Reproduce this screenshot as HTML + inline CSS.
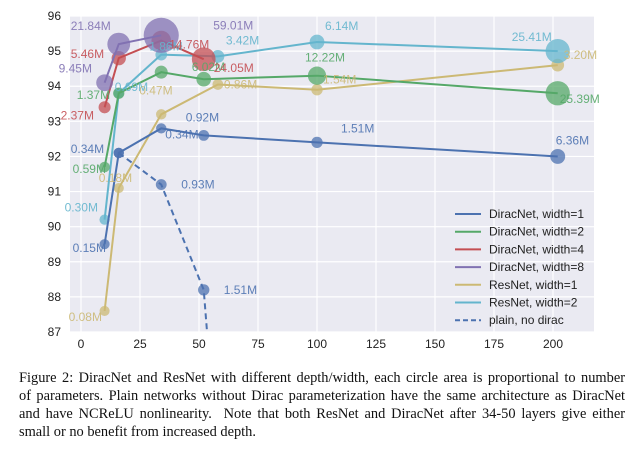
<!DOCTYPE html>
<html><head><meta charset="utf-8"><style>
body{margin:0;background:#fff;width:644px;height:459px;overflow:hidden}
svg text{font-family:"Liberation Sans",sans-serif}
#cap{position:absolute;left:19px;top:369px;width:606px;font-family:"Liberation Serif",serif;font-size:14.4px;line-height:18px;color:#111}
#cap .j{display:block;text-align:justify;text-align-last:justify;white-space:nowrap}
#cap .l{display:block;white-space:nowrap}
</style></head><body>
<svg id="chart" width="644" height="360" style="position:absolute;left:0;top:0"></svg>
<div id="cap"><span class="j">Figure 2: DiracNet and ResNet with different depth/width, each circle area is proportional to number</span><span class="j">of parameters. Plain networks without Dirac parameterization have the same architecture as DiracNet</span><span class="j">and have NCReLU nonlinearity.&nbsp; Note that both ResNet and DiracNet after 34-50 layers give either</span><span class="l">small or no benefit from increased depth.</span></div>
<script>
const xTicks=[0,25,50,75,100,125,150,175,200];
const yTicks=[87,88,89,90,91,92,93,94,95,96];
const seriesNames=["DiracNet, width=1","DiracNet, width=2","DiracNet, width=4","DiracNet, width=8","ResNet, width=1","ResNet, width=2","plain, no dirac"];
const colors=["#4c72b0","#55a868","#c44e52","#8172b2","#ccb974","#64b5cd","#4c72b0"];
const d1Depth=[10,16,34,52,100,202], d1Acc=[89.5,92.1,92.8,92.6,92.4,92.0], d1Par=[0.15,0.34,0.34,0.92,1.51,6.36];
const d1Lab=["0.15M","0.34M","0.34M","0.92M","1.51M","6.36M"];
const d2Depth=[10,16,34,52,100,202], d2Acc=[91.7,93.8,94.4,94.2,94.3,93.8], d2Par=[0.59,1.37,3.6,6.02,12.22,25.39];
const d2Lab=["0.59M","1.37M","","6.02M","12.22M","25.39M"];
const d4Depth=[10,16,34,52], d4Acc=[93.4,94.8,95.3,94.77], d4Par=[2.37,5.46,14.76,24.05];
const d4Lab=["2.37M","5.46M","14.76M","24.05M"];
const d8Depth=[10,16,34], d8Acc=[94.1,95.2,95.45], d8Par=[9.45,21.84,59.01];
const d8Lab=["9.45M","21.84M","59.01M"];
const r1Depth=[10,16,34,58,100,202], r1Acc=[87.6,91.1,93.2,94.05,93.9,94.6], r1Par=[0.08,0.18,0.47,0.86,1.54,3.20];
const r1Lab=["0.08M","0.18M","0.47M","0.86M","1.54M","3.20M"];
const r2Depth=[10,16,34,58,100,202], r2Acc=[90.2,93.8,94.9,94.85,95.26,95.0], r2Par=[0.30,0.69,1.86,3.42,6.14,25.41];
const r2Lab=["0.30M","0.69M","1.86M","3.42M","6.14M","25.41M"];
const plDepth=[16,34,52,54], plAcc=[92.1,91.2,88.2,86.5], plPar=[0.34,0.93,1.51,0];
const plLab=["","0.93M","1.51M",""];
const labelOff={
 0:[[-32,8],[-48,0],[4,10],[-18,-14],[24,-10],[-2,-12]],
 1:[[-32,6],[-42,6],[0,0],[-12,-8],[-12,-14],[2,10]],
 2:[[-44,12],[-48,0],[8,8],[10,13]],
 3:[[-46,-10],[-48,-14],[52,-6]],
 4:[[-36,10],[-20,-6],[-22,-20],[6,4],[6,-6],[6,-6]],
 5:[[-40,-8],[-4,-2],[-12,-4],[8,-12],[8,-12],[-46,-10]]};
const svg=document.getElementById('chart');const NS="http://www.w3.org/2000/svg";
const L=70,R=594,T=16,B=332;
const X=v=>81+v*2.36;
const Y=v=>T+(96-v)*(B-T)/9;
const Rad=p=>Math.sqrt(25+4.8*p);
function mk(t,a){const e=document.createElementNS(NS,t);for(const k in a)e.setAttribute(k,a[k]);svg.appendChild(e);return e;}
let bg=mk('rect',{x:L,y:T,width:R-L,height:B-T,fill:'#eaeaf2'});


xTicks.forEach(t=>{let g=mk('line',{x1:X(t),x2:X(t),y1:T,y2:B,stroke:'#fff','stroke-width':1.2});


let tx=mk('text',{x:X(t),y:348,'text-anchor':'middle','font-size':12,fill:'#222'});tx.textContent=t;

});
yTicks.forEach(t=>{let g=mk('line',{x1:L,x2:R,y1:Y(t),y2:Y(t),stroke:'#fff','stroke-width':1.2});


let tx=mk('text',{x:61,y:Y(t)+4,'text-anchor':'end','font-size':12,fill:'#222'});tx.textContent=t;

});
const clip=mk('clipPath',{id:'cp'});const cr=document.createElementNS(NS,'rect');cr.setAttribute('x',L);cr.setAttribute('y',T);cr.setAttribute('width',R-L);cr.setAttribute('height',B-T);clip.appendChild(cr);
const all=[[d1Depth,d1Acc,d1Par,d1Lab],[d2Depth,d2Acc,d2Par,d2Lab],[d4Depth,d4Acc,d4Par,d4Lab],[d8Depth,d8Acc,d8Par,d8Lab],[r1Depth,r1Acc,r1Par,r1Lab],[r2Depth,r2Acc,r2Par,r2Lab],[plDepth,plAcc,plPar,plLab]];
const order=[6,4,5,0,1,2,3];
order.forEach(i=>{const [dx,ac,pa,lb]=all[i];const c=colors[i];
 const pts=dx.map((d,j)=>X(d)+','+Y(ac[j])).join(' ');
 let pl=mk('polyline',{points:pts,fill:'none',stroke:c,'stroke-width':2,'clip-path':'url(#cp)'});
 if(i==6)pl.setAttribute('stroke-dasharray','6,4');
 
 
 dx.forEach((d,j)=>{if(!pa[j])return;
  let ci=mk('circle',{cx:X(d),cy:Y(ac[j]),r:Rad(pa[j]),fill:c,'fill-opacity':0.75});
  
  });
});
order.forEach(i=>{const [dx,ac,pa,lb]=all[i];const c=colors[i];
 dx.forEach((d,j)=>{if(!lb[j])return;const o=(labelOff[i]&&labelOff[i][j])||(i==6?[20,4]:[6,-6]);
  let tx=mk('text',{x:X(d)+o[0],y:Y(ac[j])+o[1],'font-size':12,fill:c,'fill-opacity':0.9});tx.textContent=lb[j];
  
  });
});
seriesNames.forEach((n,i)=>{const y=214+i*17.7;
 let ln=mk('line',{x1:455,x2:481,y1:y,y2:y,stroke:colors[i],'stroke-width':2});
 if(i==6)ln.setAttribute('stroke-dasharray','5,3');
 
 
 let tx=mk('text',{x:489,y:y+4,'font-size':12,fill:'#222'});tx.textContent=n;
 
 });
</script>
</body></html>
